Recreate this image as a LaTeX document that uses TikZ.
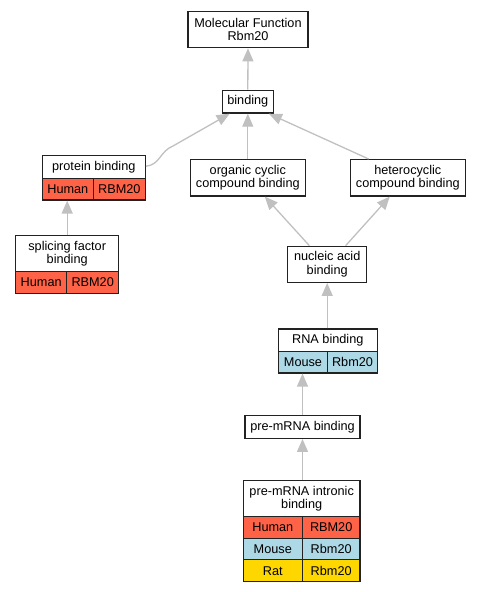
\documentclass[tikz,border=0pt]{standalone}
\usepackage{fontspec}
\setmainfont{Liberation Sans}
\usetikzlibrary{arrows.meta,calc}
\definecolor{edgegray}{HTML}{C0C0C0}
\definecolor{human}{HTML}{FF6347}
\definecolor{mouse}{HTML}{ADD8E6}
\definecolor{rat}{HTML}{FFD700}
\definecolor{border}{HTML}{222222}
\begin{document}
\begin{tikzpicture}[x=1pt,y=-1pt,
  box/.style={draw=border, line width=1.3pt, fill=white, inner sep=0pt, align=center,
    font=\fontsize{12.7}{13.4}\selectfont, text=black},
  cell/.style={box, fill=#1},
  link/.style={draw=edgegray, line width=1.3pt, -{Triangle[length=13pt,width=11pt]}}]
\useasboundingbox (0,0) rectangle (481,592);

% nodes
\node[box, minimum width=120pt, minimum height=36pt] (mf) at (248,29.7) {Molecular Function\\Rbm20};
\node[box, minimum width=51pt, minimum height=22.7pt] (bind) at (247.8,101.7) {binding};

\node[box, minimum width=103pt, minimum height=23pt] (pb) at (93.8,167.2) {protein binding};
\node[cell=human, minimum width=51pt, minimum height=21.3pt] (pbh) at (67.8,189.3) {Human};
\node[cell=human, minimum width=52pt, minimum height=21.3pt] (pbr) at (119.3,189.3) {RBM20};

\node[box, minimum width=115pt, minimum height=36.3pt] (org) at (247.8,177.8) {organic cyclic\\compound binding};
\node[box, minimum width=115pt, minimum height=36.3pt] (het) at (407.8,177.8) {heterocyclic\\compound binding};

\node[box, minimum width=103pt, minimum height=35.6pt] (sf) at (67.2,253.5) {splicing factor\\binding};
\node[cell=human, minimum width=51pt, minimum height=22pt] (sfh) at (41.2,282.3) {Human};
\node[cell=human, minimum width=52pt, minimum height=22pt] (sfr) at (92.7,282.3) {RBM20};

\node[box, minimum width=79pt, minimum height=36pt] (nuc) at (327.2,264.3) {nucleic acid\\binding};

\node[box, minimum width=99pt, minimum height=22.7pt] (rna) at (327.8,340.3) {RNA binding};
\node[cell=mouse, minimum width=49.4pt, minimum height=21.3pt] (rnam) at (303,362.3) {Mouse};
\node[cell=mouse, minimum width=49.6pt, minimum height=21.3pt] (rnar) at (352.5,362.3) {Rbm20};

\node[box, minimum width=115pt, minimum height=23pt] (pm) at (302.5,426.8) {pre-mRNA binding};

\node[box, minimum width=116.7pt, minimum height=36pt] (intr) at (301.7,498.7) {pre-mRNA intronic\\binding};
\node[cell=human, minimum width=59pt, minimum height=21.6pt] (ih1) at (272.8,527.5) {Human};
\node[cell=human, minimum width=57.7pt, minimum height=21.6pt] (ih2) at (331.2,527.5) {RBM20};
\node[cell=mouse, minimum width=59pt, minimum height=21.4pt] (im1) at (272.8,549) {Mouse};
\node[cell=mouse, minimum width=57.7pt, minimum height=21.4pt] (im2) at (331.2,549) {Rbm20};
\node[cell=rat, minimum width=59pt, minimum height=22pt] (ir1) at (272.8,570.7) {Rat};
\node[cell=rat, minimum width=57.7pt, minimum height=22pt] (ir2) at (331.2,570.7) {Rbm20};

% edges
\draw[link] (bind.north) -- (mf.south);
\draw[link] (org.north) -- (bind.south);
\draw[link] ($(het.north west)+(19,0)$) -- ($(bind.south east)+(-5,0)$);
\draw[link] ($(pb.east)+(0,-1)$) .. controls (160,165) and (160,151) .. (173,146) -- ($(bind.south west)+(8,0)$);
\draw[link] (sf.north) -- (sf.north |- pbh.south);
\draw[link] ($(nuc.north west)+(22.3,0)$) -- ($(org.south)+(17,0)$);
\draw[link] ($(nuc.north east)+(-21.7,0)$) -- ($(het.south)+(-18,0)$);
\draw[link] (nuc.south |- rna.north) -- (nuc.south);
\draw[link] (pm.north) -- (pm.north |- rnam.south);
\draw[link] (pm.south |- intr.north) -- (pm.south);
\end{tikzpicture}
\end{document}
